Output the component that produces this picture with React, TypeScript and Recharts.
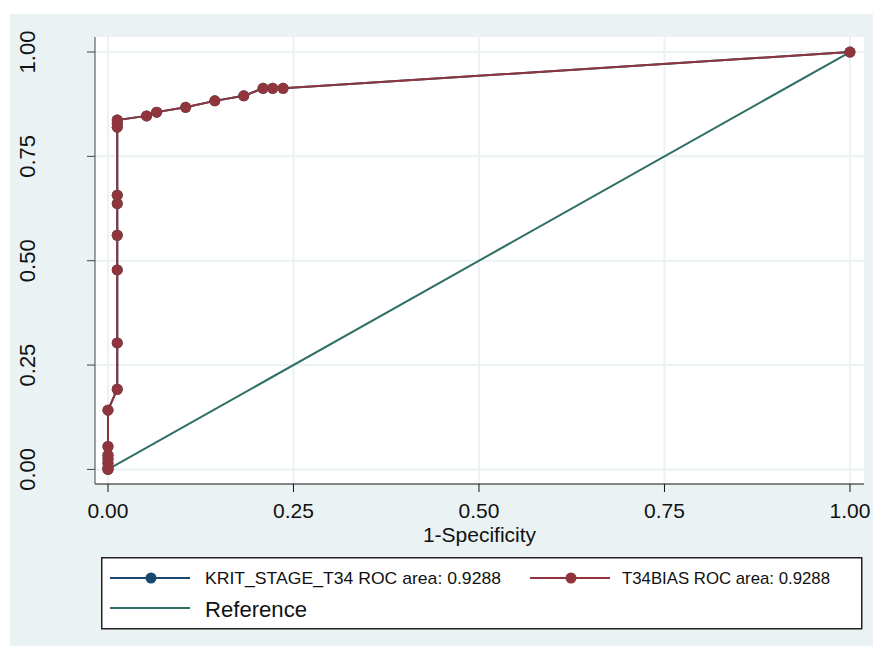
import { LineChart, Line, XAxis, YAxis, CartesianGrid, Legend } from 'recharts'

// ROC points (1-specificity, sensitivity), same for both classifiers
const fpr = [
  0, 0, 0, 0, 0, 0, 0,
  0.0125, 0.0125, 0.0125, 0.0125, 0.0125, 0.0125, 0.0125, 0.0125, 0.0125,
  0.052, 0.0656, 0.1047, 0.144, 0.183, 0.209, 0.222, 0.236, 1,
]
const sensitivity = [
  0, 0.003, 0.015, 0.025, 0.034, 0.055, 0.142,
  0.192, 0.303, 0.478, 0.561, 0.637, 0.657, 0.82, 0.829, 0.837,
  0.847, 0.856, 0.8675, 0.883, 0.895, 0.913, 0.913, 0.913, 1,
]
const refX = [0, 1]
const refY = [0, 1]

const ticks = [0, 0.25, 0.5, 0.75, 1]
const seriesNames = ['KRIT_STAGE_T34 ROC area: 0.9288', 'T34BIAS ROC area: 0.9288']
const referenceName = 'Reference'

const NAVY = '#1a476f'
const MAROON = '#90353b'
const TEAL = '#2f6f66'
const BG = '#eaf2f3'
const FONT = '"Liberation Sans", Arial, sans-serif'

const rocData = fpr.map((x, i) => ({ x, y: sensitivity[i] }))
const refData = refX.map((x, i) => ({ x, y: refY[i] }))

const XTick = ({ x, y, payload }: any) => (
  <text x={x} y={y + 24} textAnchor="middle" fontSize={21} fontFamily={FONT} fill="#111">
    {payload.value.toFixed(2)}
  </text>
)

const YTick = ({ x, y, payload }: any) => (
  <text
    x={x - 50}
    y={y}
    textAnchor="middle"
    fontSize={22}
    fontFamily={FONT}
    fill="#111"
    transform={`rotate(-90, ${x - 50}, ${y})`}
  >
    {payload.value.toFixed(2)}
  </text>
)

const XTitle = ({ viewBox }: any) => (
  <text
    x={viewBox.x + viewBox.width / 2}
    y={viewBox.y + 58}
    textAnchor="middle"
    fontSize={21}
    fontFamily={FONT}
    fill="#111"
  >
    1-Specificity
  </text>
)

function RocLegend() {
  const swatch = (x: number, y: number, color: string, dot: boolean) => (
    <g>
      <line x1={x} x2={x + 80} y1={y} y2={y} stroke={color} strokeWidth={2} />
      {dot && <circle cx={x + 41} cy={y} r={5.5} fill={color} />}
    </g>
  )
  return (
    <svg width={763} height={74} style={{ display: 'block' }}>
      <rect x={0.75} y={0.75} width={760} height={71} fill="#fff" stroke="#222" strokeWidth={1.5} />
      {swatch(9, 21, NAVY, true)}
      <text x={104} y={27} fontSize={17} fontFamily={FONT} fill="#111" textLength={296} lengthAdjust="spacingAndGlyphs">
        {seriesNames[0]}
      </text>
      {swatch(429, 21, MAROON, true)}
      <text x={521} y={27} fontSize={17} fontFamily={FONT} fill="#111" textLength={208} lengthAdjust="spacingAndGlyphs">
        {seriesNames[1]}
      </text>
      {swatch(9, 51, TEAL, false)}
      <text x={104} y={60} fontSize={22} fontFamily={FONT} fill="#111" textLength={102} lengthAdjust="spacingAndGlyphs">
        {referenceName}
      </text>
    </svg>
  )
}

export default function App() {
  return (
    <div style={{ position: 'absolute', left: 10, top: 14, width: 863, height: 632, background: BG }}>
      <LineChart width={863} height={632} margin={{ top: 23, right: 9, left: 0, bottom: 102 }}>
        <CartesianGrid fill="#fff" stroke={BG} strokeWidth={2} horizontalValues={ticks} verticalValues={ticks} />
        <XAxis
          type="number"
          dataKey="x"
          domain={[-0.0175, 1.0189]}
          ticks={ticks}
          allowDataOverflow
          height={60}
          tickSize={8}
          stroke="#111"
          tick={<XTick />}
          label={<XTitle />}
        />
        <YAxis
          type="number"
          dataKey="y"
          domain={[-0.035, 1.036]}
          ticks={ticks}
          allowDataOverflow
          width={85}
          tickSize={8}
          stroke="#444"
          tick={<YTick />}
        />
        <Legend
          layout="horizontal"
          verticalAlign="middle"
          align="center"
          content={() => <RocLegend />}
          wrapperStyle={{ position: 'absolute', left: 91, top: 543, width: 763, height: 74 }}
        />
        <Line
          data={rocData}
          dataKey="y"
          name={seriesNames[0]}
          stroke={NAVY}
          strokeWidth={2}
          dot={{ r: 5.5, fill: NAVY, stroke: NAVY, strokeWidth: 0 }}
          activeDot={false}
          isAnimationActive={false}
        />
        <Line
          data={rocData}
          dataKey="y"
          name={seriesNames[1]}
          stroke={MAROON}
          strokeWidth={2}
          dot={{ r: 5.5, fill: MAROON, stroke: MAROON, strokeWidth: 0 }}
          activeDot={false}
          isAnimationActive={false}
        />
        <Line
          data={refData}
          dataKey="y"
          name={referenceName}
          stroke={TEAL}
          strokeWidth={2}
          dot={false}
          activeDot={false}
          isAnimationActive={false}
        />
      </LineChart>
    </div>
  )
}
